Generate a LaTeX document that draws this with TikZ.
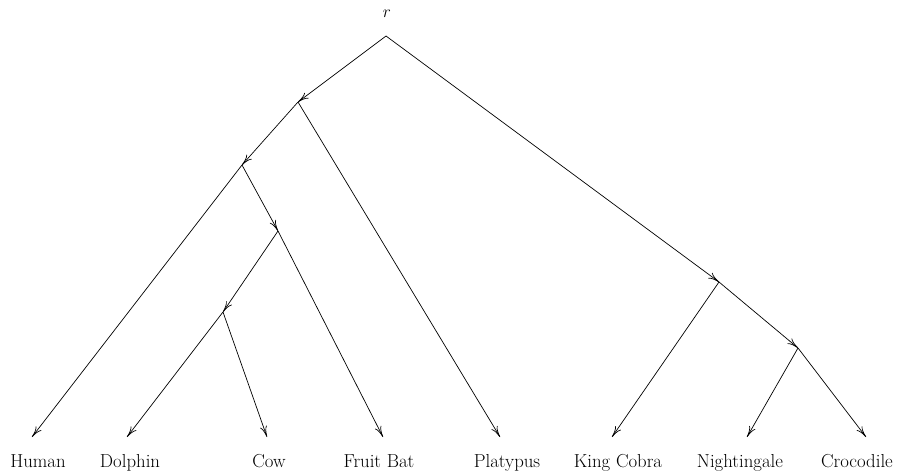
\documentclass[tikz,border=0pt]{standalone}
\usetikzlibrary{arrows.meta}
\begin{document}
\begin{tikzpicture}[x=1pt,y=-1pt,
  edge/.style={line width=0.7pt,-{Computer Modern Rightarrow[length=11pt,width=7pt,line width=0.7pt]}},
  leaf/.style={anchor=base,inner sep=0pt,font=\fontsize{18.8}{22}\selectfont}]
\useasboundingbox (0,0) rectangle (905,473);
\node[leaf] (rl) at (387,17.5) {$r$};
\coordinate (R) at (386,36);
\coordinate (A) at (298,102);
\coordinate (B) at (242,165);
\coordinate (C) at (278,231);
\coordinate (D) at (223,312);
\coordinate (E) at (719,282);
\coordinate (F) at (798,348);
% leaf tips
\coordinate (tHuman) at (32,437);
\coordinate (tDolphin) at (127,437);
\coordinate (tCow) at (267,437);
\coordinate (tFruit) at (383,437);
\coordinate (tPlat) at (500,437);
\coordinate (tKing) at (612,437);
\coordinate (tNight) at (747,437);
\coordinate (tCroc) at (866,437);
% labels
\node[leaf] (Human) at (38,467) {Human};
\node[leaf] (Dolphin) at (130,467) {Dolphin};
\node[leaf] (Cow) at (269,467) {Cow};
\node[leaf] (Fruit) at (379,467) {Fruit Bat};
\node[leaf] (Plat) at (507,467) {Platypus};
\node[leaf] (King) at (618,467) {King Cobra};
\node[leaf] (Night) at (740,467) {Nightingale};
\node[leaf] (Croc) at (857,467) {Crocodile};
% edges
\draw[edge] (R) -- (A);
\draw[edge] (R) -- (E);
\draw[edge] (A) -- (B);
\draw[edge] (A) -- (tPlat);
\draw[edge] (B) -- (tHuman);
\draw[edge] (B) -- (C);
\draw[edge] (C) -- (D);
\draw[edge] (C) -- (tFruit);
\draw[edge] (D) -- (tDolphin);
\draw[edge] (D) -- (tCow);
\draw[edge] (E) -- (tKing);
\draw[edge] (E) -- (F);
\draw[edge] (F) -- (tNight);
\draw[edge] (F) -- (tCroc);
\end{tikzpicture}
\end{document}
